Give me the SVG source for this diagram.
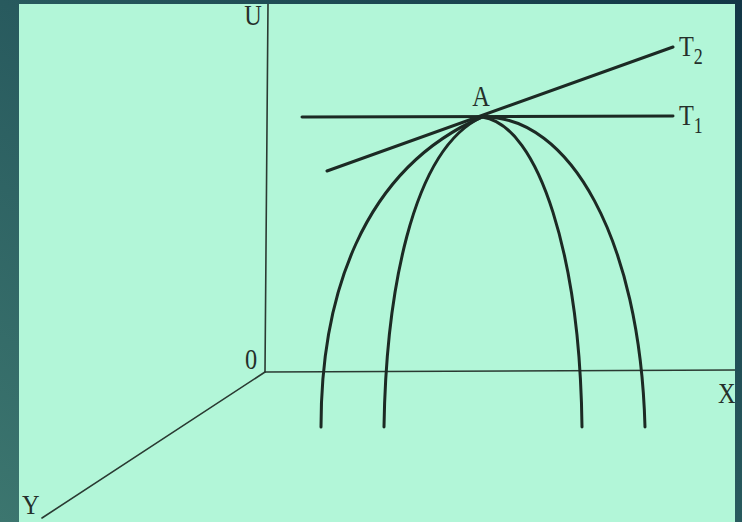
<svg xmlns="http://www.w3.org/2000/svg" width="742" height="522" viewBox="0 0 742 522">
  <defs>
    <linearGradient id="frame" x1="0" y1="1" x2="1" y2="0">
      <stop offset="0" stop-color="#3c766f"/>
      <stop offset="0.5" stop-color="#285a5e"/>
      <stop offset="1" stop-color="#123646"/>
    </linearGradient>
    <clipPath id="panel">
      <rect x="19" y="4" width="716" height="518"/>
    </clipPath>
    <style>
      .axis { stroke: #2a3a32; stroke-width: 1.6; fill: none; stroke-linecap: round; }
      .thick { stroke: #1c2a24; stroke-width: 3; fill: none; stroke-linecap: round; }
      .lbl { font-family: "Liberation Serif", "Times New Roman", serif; font-size: 27px; fill: #25302b; }
      .sub { font-family: "Liberation Serif", "Times New Roman", serif; font-size: 20px; fill: #25302b; }
    </style>
  </defs>
  <rect x="0" y="0" width="742" height="522" fill="url(#frame)"/>
  <rect x="19" y="4" width="716" height="518" fill="#b2f6d8"/>
  <g clip-path="url(#panel)">
    <g id="axes">
      <line class="axis" x1="268" y1="4" x2="265" y2="372"/>
      <line class="axis" x1="265" y1="372" x2="736" y2="370"/>
      <line class="axis" x1="265" y1="372" x2="42" y2="518"/>
    </g>
    <g id="tangents">
      <line class="thick" x1="302" y1="117" x2="673" y2="116"/>
      <line class="thick" x1="327" y1="171" x2="673" y2="47"/>
    </g>
    <g id="curves">
      <path class="thick" d="M 321 427 C 321 300, 360 170, 482 117"/>
      <path class="thick" d="M 384 427 C 386 300, 410 150, 482 117"/>
      <path class="thick" d="M 482 117 C 540 125, 580 260, 582 427"/>
      <path class="thick" d="M 482 117 C 570 115, 640 240, 645 427"/>
    </g>
    <g id="labels">
      <text class="lbl" transform="translate(253,25) scale(0.9,1.12)" text-anchor="middle">U</text>
      <text class="lbl" transform="translate(251,369) scale(0.9,1.12)" text-anchor="middle">0</text>
      <text class="lbl" transform="translate(718,403) scale(0.9,1.12)">X</text>
      <text class="lbl" transform="translate(22,514) scale(0.9,1.0)">Y</text>
      <text class="lbl" transform="translate(481,106) scale(0.9,1.12)" text-anchor="middle">A</text>
      <text class="lbl" transform="translate(679,125) scale(0.9,1.12)">T<tspan class="sub" dy="7">1</tspan></text>
      <text class="lbl" transform="translate(679,56) scale(0.9,1.12)">T<tspan class="sub" dy="7">2</tspan></text>
    </g>
  </g>
</svg>
